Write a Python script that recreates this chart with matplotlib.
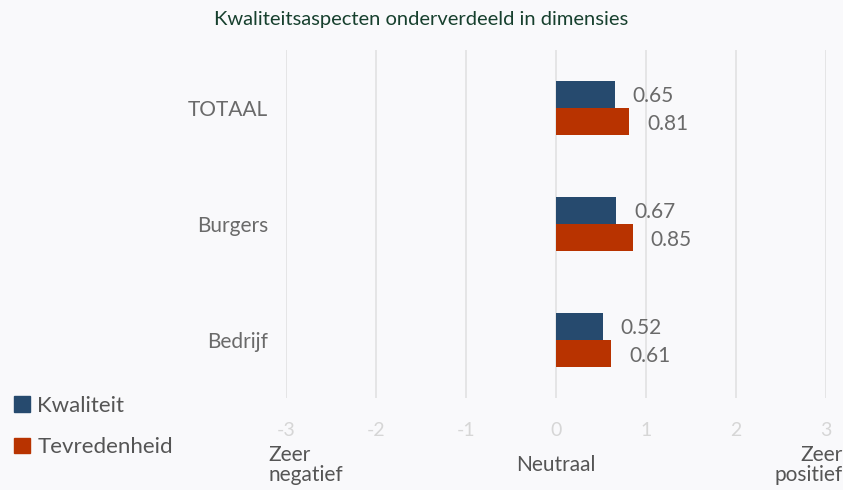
import numpy as np
import matplotlib.pyplot as plt
from matplotlib.patches import Patch

categories = ['TOTAAL', 'Burgers', 'Bedrijf']
kwaliteit = [0.65, 0.67, 0.52]
tevredenheid = [0.81, 0.85, 0.61]
xticks = [-3, -2, -1, 0, 1, 2, 3]

bg = '#f9f9fb'
c_kw = '#264a6e'
c_tv = '#b83300'
txt = '#6a6a6a'

plt.rcParams['font.family'] = ['Lato', 'DejaVu Sans']

fig = plt.figure(figsize=(8.43, 4.9), dpi=100, facecolor=bg)
ax = fig.add_axes([286 / 843, 1 - 398 / 490, 540 / 843, 348 / 490])
ax.set_facecolor(bg)

y = np.arange(len(categories))
h = 0.235
ax.barh(y - h / 2, kwaliteit, height=h, color=c_kw, zorder=3)
ax.barh(y + h / 2, tevredenheid, height=h, color=c_tv, zorder=3)

for yi, v in zip(y, kwaliteit):
    ax.annotate(f'{v:.2f}', (v, yi - h / 2), xytext=(13, -1.5), textcoords='offset points',
                va='center', ha='left', fontsize=15, color=txt)
for yi, v in zip(y, tevredenheid):
    ax.annotate(f'{v:.2f}', (v, yi + h / 2), xytext=(13, -1.5), textcoords='offset points',
                va='center', ha='left', fontsize=15, color=txt)

ax.set_xlim(-3, 3)
ax.set_ylim(2.5, -0.5)
ax.set_xticks(xticks)
ax.set_xticklabels([str(t) for t in xticks], fontsize=14, color='#d6d6d6')
ax.tick_params(axis='x', length=0, pad=17)
ax.set_yticks(y)
ax.set_yticklabels(categories, fontsize=15, color=txt)
ax.tick_params(axis='y', length=0, pad=13)
ax.grid(axis='x', color='#e2e2e2', linewidth=1.2, zorder=0)
for s in ax.spines.values():
    s.set_visible(False)

fig.text(0.5, 1 - 20 / 490, 'Kwaliteitsaspecten onderverdeeld in dimensies', ha='center', va='center',
         fontsize=14.5, color='#17402e')

fig.text(268 / 843, 1 - 445 / 490, 'Zeer\nnegatief', ha='left', va='top', fontsize=15,
         color='#555555', linespacing=1.0)
fig.text(556 / 843, 1 - 465 / 490, 'Neutraal', ha='center', va='center', fontsize=15,
         color='#555555')
fig.text(843 / 843, 1 - 445 / 490, 'Zeer\npositief', ha='right', va='top', fontsize=15,
         color='#555555', linespacing=1.0, multialignment='right')

handles = [Patch(color=c_kw, label='Kwaliteit'), Patch(color=c_tv, label='Tevredenheid')]
fig.legend(handles=handles, loc='upper left', bbox_to_anchor=(-0.007, 1 - 376 / 490), frameon=False,
           prop={'size': 16}, labelcolor='#555555', handlelength=0.7,
           handleheight=0.7, handletextpad=0.35, labelspacing=0.95)

fig.savefig('out.png', dpi=100, facecolor=bg)
